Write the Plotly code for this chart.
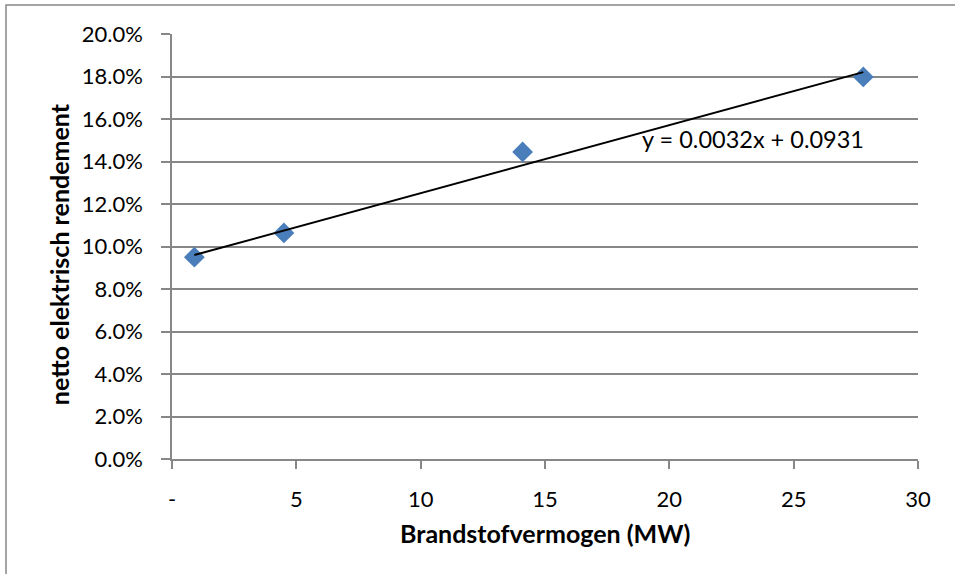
import plotly.graph_objects as go

# Fuel capacity (MW) and net electrical efficiency (fraction)
capacity_mw = [0.9, 4.5, 14.1, 27.8]
efficiency = [0.095, 0.1064, 0.1445, 0.1798]

# Linear trendline coefficients: y = slope * x + intercept
slope = 0.0032
intercept = 0.0931

x_tick_values = [0, 5, 10, 15, 20, 25, 30]
x_tick_labels = ["-", "5", "10", "15", "20", "25", "30"]

FONT = "Lato"
GRID = "#878787"

trend_x = [min(capacity_mw), max(capacity_mw)]
trend_y = [slope * x + intercept for x in trend_x]

fig = go.Figure()

fig.add_trace(go.Scatter(
    x=capacity_mw, y=efficiency, mode="markers",
    marker=dict(symbol="diamond", size=16, color="#4A7EBB",
                line=dict(width=0)),
    showlegend=False, hoverinfo="x+y",
))

fig.add_trace(go.Scatter(
    x=trend_x, y=trend_y, mode="lines",
    line=dict(color="black", width=2),
    showlegend=False, hoverinfo="skip",
))

fig.update_layout(
    width=955, height=574,
    margin=dict(l=172, r=37, t=34, b=115),
    paper_bgcolor="white", plot_bgcolor="white",
    font=dict(family=FONT, size=22, color="black"),
    xaxis=dict(
        range=[0, 30], tickmode="array",
        tickvals=x_tick_values, ticktext=x_tick_labels,
        showgrid=False, zeroline=False,
        showline=True, linecolor=GRID, linewidth=1.5,
        ticks="outside", ticklen=8, tickwidth=1.5, tickcolor=GRID,
        ticklabelstandoff=12,
        tickfont=dict(family=FONT, size=22),
    ),
    yaxis=dict(
        range=[0, 0.2], dtick=0.02, tickformat=".1%",
        showgrid=True, gridcolor=GRID, gridwidth=1.5,
        zeroline=False,
        showline=True, linecolor=GRID, linewidth=1.5,
        ticks="outside", ticklen=9, tickwidth=1.5, tickcolor=GRID,
        ticklabelstandoff=14,
        tickfont=dict(family=FONT, size=22),
    ),
    annotations=[
        dict(text="<b>Brandstofvermogen (MW)</b>", xref="paper", yref="paper",
             x=0.5, y=-0.174, xanchor="center", yanchor="middle",
             showarrow=False, font=dict(family=FONT, size=25)),
        dict(text="<b>netto elektrisch rendement</b>", xref="paper", yref="paper",
             x=-0.1515, y=0.482, xanchor="center", yanchor="middle",
             textangle=-90, showarrow=False, font=dict(family=FONT, size=25)),
        dict(text=f"y = {slope:.4f}x + {intercept:.4f}", xref="x", yref="y",
             x=23.36, y=0.1506, xanchor="center", yanchor="middle",
             showarrow=False, font=dict(family=FONT, size=23.5)),
    ],
    shapes=[
        dict(type="rect", xref="paper", yref="paper",
             x0=-0.2225, x1=1.06, y0=-0.3, y1=1.068,
             line=dict(color=GRID, width=1.5), fillcolor="rgba(0,0,0,0)",
             layer="below"),
    ],
)

fig.write_html("out.html")
